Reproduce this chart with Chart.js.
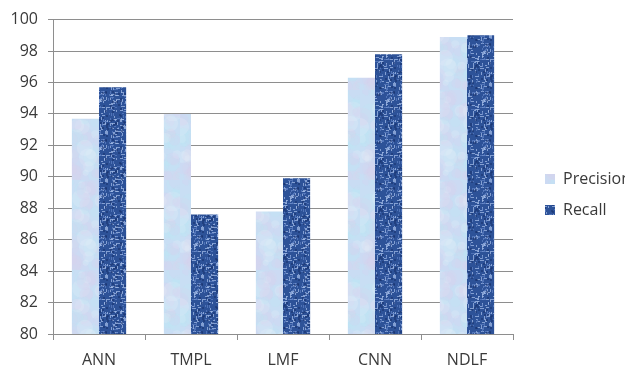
<!DOCTYPE html>
<html>
<head>
<meta charset="utf-8">
<script src="https://cdn.jsdelivr.net/npm/chart.js@4/dist/chart.umd.min.js"></script>
<style>
  html, body { margin: 0; padding: 0; background: #fff; }
  #wrap { width: 625px; height: 373px; }
</style>
</head>
<body>
<div id="wrap"><canvas id="prChart" width="625" height="373"></canvas></div>
<script>
// Precision / recall per method (percent).
const categories = ["ANN", "TMPL", "LMF", "CNN", "NDLF"];
const precision = [93.7, 94.0, 87.8, 96.3, 98.9];
const recall = [95.7, 87.6, 89.9, 97.8, 99.0];
const yTicks = [80, 82, 84, 86, 88, 90, 92, 94, 96, 98, 100];

const GRID = "#8e8e8e";
const TEXT = "#3a3a3a";
const FONT = { family: "'Open Sans', 'Liberation Sans', sans-serif", size: 16 };

// small seeded generator, only used to scatter the texture specks
function lcg(seed) {
  let s = seed >>> 0;
  return () => {
    s = (s * 1664525 + 1013904223) >>> 0;
    return s / 4294967296;
  };
}

// pale blue "cloudy" fill used for Precision
function makeCloudPattern(ctx) {
  const c = document.createElement("canvas");
  c.width = 60; c.height = 90;
  const g = c.getContext("2d");
  g.fillStyle = "#c8def4";
  g.fillRect(0, 0, c.width, c.height);
  const rnd = lcg(7);
  const tints = ["rgba(214,206,238,0.25)", "rgba(188,230,244,0.25)", "rgba(240,246,252,0.2)", "rgba(222,210,236,0.2)"];
  for (let i = 0; i < 90; i++) {
    g.fillStyle = tints[i % tints.length];
    g.beginPath();
    g.arc(rnd() * c.width, rnd() * c.height, 3 + rnd() * 7, 0, Math.PI * 2);
    g.fill();
  }
  return ctx.createPattern(c, "repeat");
}

// dark blue mottled fill used for Recall
function makeSpecklePattern(ctx) {
  const c = document.createElement("canvas");
  c.width = 48; c.height = 48;
  const g = c.getContext("2d");
  g.fillStyle = "#2d5298";
  g.fillRect(0, 0, c.width, c.height);
  const rnd = lcg(31);
  for (let i = 0; i < 230; i++) {
    const light = rnd() < 0.65;
    g.fillStyle = light ? "rgba(160,186,230,0.75)" : "rgba(96,130,196,0.7)";
    const horiz = rnd() < 0.5;
    const len = 2 + Math.floor(rnd() * 3);
    g.fillRect(Math.floor(rnd() * c.width), Math.floor(rnd() * c.height), horiz ? len : 1, horiz ? 1 : len);
  }
  g.fillStyle = "rgba(24,50,110,0.55)";
  for (let i = 0; i < 80; i++) {
    g.fillRect(Math.floor(rnd() * c.width), Math.floor(rnd() * c.height), 2, 2);
  }
  return ctx.createPattern(c, "repeat");
}

// fixed plot box and legend placement
const layoutTweaks = {
  id: "layoutTweaks",
  beforeLayout(chart) {
    const lg = chart.legend;
    if (lg && !lg._patched) {
      const fit = lg.fit.bind(lg);
      lg.fit = function () {
        fit();
        this.width = 112;
      };
      lg._patched = true;
    }
  },
  afterLayout(chart) {
    const lg = chart.legend;
    lg.left = 530;
    lg.top = 156;
    lg.width = lg.right - lg.left;
    lg.height = lg.bottom - lg.top;
  }
};

const canvas = document.getElementById("prChart");
const ctx = canvas.getContext("2d");

new Chart(ctx, {
  type: "bar",
  data: {
    labels: categories,
    datasets: [
      { label: "Precision", data: precision, backgroundColor: makeCloudPattern(ctx), borderWidth: 0 },
      { label: "Recall", data: recall, backgroundColor: makeSpecklePattern(ctx), borderWidth: 0 }
    ]
  },
  options: {
    responsive: false,
    animation: false,
    devicePixelRatio: 1,
    layout: { padding: { top: 19, left: 0, right: 0, bottom: 0 } },
    datasets: { bar: { categoryPercentage: 0.59, barPercentage: 1.0 } },
    plugins: {
      legend: {
        position: "right",
        align: "start",
        labels: { boxWidth: 10, boxHeight: 10, padding: 15, color: TEXT, font: FONT }
      },
      tooltip: { enabled: false }
    },
    scales: {
      x: {
        grid: { drawOnChartArea: false, color: GRID, tickLength: 6 },
        border: { color: GRID },
        ticks: { color: TEXT, font: FONT, padding: 11 },
        afterFit(scale) { scale.height = 39; }
      },
      y: {
        min: 80,
        max: 100,
        afterBuildTicks(scale) { scale.ticks = yTicks.map(v => ({ value: v })); },
        grid: { color: GRID, tickLength: 5 },
        border: { color: GRID },
        ticks: { color: TEXT, font: FONT, padding: 10 },
        afterFit(scale) { scale.width = 53; }
      }
    }
  },
  plugins: [layoutTweaks]
});
</script>
</body>
</html>
